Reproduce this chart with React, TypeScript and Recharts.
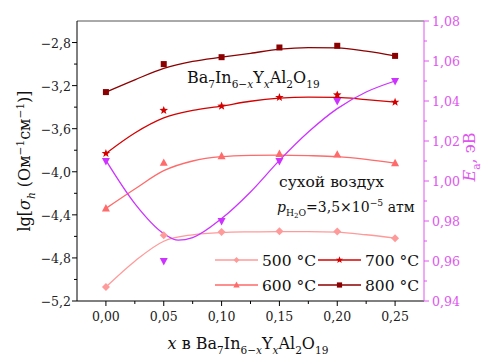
import React from 'react';
import { ComposedChart, Line, XAxis, YAxis, ReferenceLine } from 'recharts';

// ---- data ----
const xValues = [0, 0.05, 0.1, 0.15, 0.2, 0.25];
const sigma500 = [-5.07, -4.59, -4.56, -4.552, -4.555, -4.617];
const sigma600 = [-4.34, -3.917, -3.856, -3.834, -3.84, -3.92];
const sigma700 = [-3.83, -3.43, -3.39, -3.31, -3.286, -3.354];
const sigma800 = [-3.26, -3.0, -2.936, -2.846, -2.83, -2.924];
const activationEnergy = [1.01, 0.96, 0.98, 1.01, 1.04, 1.05];

// fitted curves
const fitX = [0, 0.025, 0.05, 0.075, 0.1, 0.125, 0.15, 0.175, 0.2, 0.225, 0.25];
const fit500 = [-5.07, -4.83, -4.645, -4.585, -4.564, -4.558, -4.555, -4.555, -4.56, -4.585, -4.617];
const fit600 = [-4.34, -4.16, -3.99, -3.9, -3.86, -3.848, -3.845, -3.85, -3.86, -3.885, -3.92];
const fit700 = [-3.83, -3.64, -3.5, -3.43, -3.39, -3.345, -3.317, -3.307, -3.31, -3.33, -3.354];
const fit800 = [-3.26, -3.146, -3.04, -2.975, -2.936, -2.9, -2.862, -2.847, -2.85, -2.88, -2.924];
const fitEaX = [0, 0.025, 0.05, 0.0625, 0.075, 0.1, 0.125, 0.15, 0.175, 0.2, 0.225, 0.25];
const fitEa = [1.0103, 0.9887, 0.9737, 0.9704, 0.9717, 0.9812, 0.9945, 1.0103, 1.0245, 1.0362, 1.0445, 1.05];

// ticks
const xMajor = [0, 0.05, 0.1, 0.15, 0.2, 0.25];
const xMinor = [0.025, 0.075, 0.125, 0.175, 0.225];
const leftMajor = [-5.2, -4.8, -4.4, -4.0, -3.6, -3.2, -2.8];
const leftMinor = [-5.0, -4.6, -4.2, -3.8, -3.4, -3.0];
const rightMajor = [0.94, 0.96, 0.98, 1.0, 1.02, 1.04, 1.06, 1.08];
const rightMinor = [0.95, 0.97, 0.99, 1.01, 1.03, 1.05, 1.07];
const legendLabels = ['500 °C', '600 °C', '700 °C', '800 °C'];

const FONT = "'DejaVu Serif', 'Liberation Serif', serif";
const C500 = '#ff9a9a';
const C600 = '#ff6a6a';
const C700 = '#d40000';
const C800 = '#8b0000';
const CEA = '#cc33ff';
const CAX = '#e055f0';

const toPts = (xs: number[], ys: number[]) => xs.map((x, i) => ({ x, y: ys[i] }));
const isIn = (v: number, arr: number[]) => arr.some((m) => Math.abs(m - v) < 1e-6);
const fmt = (v: number, d: number) => v.toFixed(d).replace('.', ',').replace('-', '−');
const tStyle = { fontFamily: FONT };

// ---- markers ----
const Diamond = ({ cx, cy, r = 4, fill = C500 }: any) => (
  <polygon points={`${cx},${cy - r} ${cx + r},${cy} ${cx},${cy + r} ${cx - r},${cy}`} fill={fill} />
);
const TriUp = ({ cx, cy, r = 4, fill = C600 }: any) => (
  <polygon points={`${cx},${cy - r * 1.1} ${cx + r},${cy + r * 0.75} ${cx - r},${cy + r * 0.75}`} fill={fill} />
);
const TriDown = ({ cx, cy, r = 4, fill = CEA }: any) => (
  <polygon points={`${cx - r},${cy - r * 0.75} ${cx + r},${cy - r * 0.75} ${cx},${cy + r * 1.1}`} fill={fill} />
);
const Square = ({ cx, cy, r = 3, fill = C800 }: any) => (
  <rect x={cx - r} y={cy - r} width={2 * r} height={2 * r} fill={fill} />
);
const Star = ({ cx, cy, r = 4.5, fill = C700 }: any) => {
  const pts: string[] = [];
  for (let i = 0; i < 10; i++) {
    const rad = i % 2 === 0 ? r : r * 0.42;
    const a = -Math.PI / 2 + (i * Math.PI) / 5;
    pts.push(`${cx + rad * Math.cos(a)},${cy + rad * Math.sin(a)}`);
  }
  return <polygon points={pts.join(' ')} fill={fill} />;
};

// ---- ticks ----
const BottomTick = (p: any) => {
  const major = isIn(p.payload.value, xMajor);
  return (
    <g>
      <line x1={p.x} x2={p.x} y1={p.y} y2={p.y + (major ? 5 : 3)} stroke="#000" />
      {major && (
        <text x={p.x} y={p.y + 20} textAnchor="middle" fontSize={12.5} style={tStyle} fill="#222">
          {fmt(p.payload.value, 2)}
        </text>
      )}
    </g>
  );
};
const LeftTick = (p: any) => {
  const major = isIn(p.payload.value, leftMajor);
  return (
    <g>
      <line x1={p.x - (major ? 5 : 3)} x2={p.x} y1={p.y} y2={p.y} stroke="#000" />
      {major && (
        <text x={p.x - 6} y={p.y + 5} textAnchor="end" fontSize={12.5} style={tStyle} fill="#222">
          {fmt(p.payload.value, 1)}
        </text>
      )}
    </g>
  );
};
const RightTick = (p: any) => {
  const major = isIn(p.payload.value, rightMajor);
  return (
    <g>
      <line x1={p.x} x2={p.x + (major ? 5 : 3)} y1={p.y} y2={p.y} stroke={CAX} />
      {major && (
        <text x={p.x + 8} y={p.y + 5} textAnchor="start" fontSize={12.5} style={tStyle} fill={CAX}>
          {fmt(p.payload.value, 2)}
        </text>
      )}
    </g>
  );
};

// ---- rich text helper ----
type Seg = { t: string; s?: 'sub' | 'sup' | 'ss'; i?: boolean };
const Rich = ({ segs, size, ...rest }: any) => {
  let cur = 0;
  return (
    <text fontSize={size} style={tStyle} {...rest}>
      {(segs as Seg[]).map((sg, k) => {
        const target = sg.s === 'sub' ? size * 0.3 : sg.s === 'ss' ? size * 0.45 : sg.s === 'sup' ? -size * 0.4 : 0;
        const dy = target - cur;
        cur = target;
        const fs = sg.s === 'ss' ? size * 0.5 : sg.s ? size * 0.66 : size;
        return (
          <tspan key={k} dy={dy} fontSize={fs} fontStyle={sg.i ? 'italic' : 'normal'}>
            {sg.t}
          </tspan>
        );
      })}
    </text>
  );
};

const formulaSegs: Seg[] = [
  { t: 'Ba' }, { t: '7', s: 'sub' }, { t: 'In' }, { t: '6−', s: 'sub' }, { t: 'x', s: 'sub', i: true },
  { t: 'Y' }, { t: 'x', s: 'sub', i: true }, { t: 'Al' }, { t: '2', s: 'sub' }, { t: 'O' }, { t: '19', s: 'sub' },
];

const Overlay = () => (
  <svg width={482} height={356} style={{ position: 'absolute', left: 0, top: 0, pointerEvents: 'none' }}>
    <Rich segs={formulaSegs} size={16} x={187} y={83} fill="#111" />
    <text x={279} y={187} fontSize={15.5} style={tStyle} fill="#111">сухой воздух</text>
    <Rich
      segs={[
        { t: 'p', i: true }, { t: 'H', s: 'sub' }, { t: '2', s: 'ss' }, { t: 'O', s: 'sub' },
        { t: '=3,5×10' }, { t: '−5', s: 'sup' }, { t: ' атм' },
      ]}
      size={14}
      x={277}
      y={212}
      fill="#111"
    />
    {/* legend */}
    <g>
      <line x1={215} x2={258} y1={260} y2={260} stroke={C500} strokeWidth={1.3} />
      <Diamond cx={236.5} cy={260} r={3} />
      <text x={262} y={266} fontSize={15.5} style={tStyle} fill="#111">{legendLabels[0]}</text>
      <line x1={215} x2={258} y1={285} y2={285} stroke={C600} strokeWidth={1.3} />
      <TriUp cx={236.5} cy={285} r={3.2} />
      <text x={262} y={291} fontSize={15.5} style={tStyle} fill="#111">{legendLabels[1]}</text>
      <line x1={318} x2={361} y1={260} y2={260} stroke={C700} strokeWidth={1.3} />
      <Star cx={339.5} cy={260} r={3.8} />
      <text x={365} y={266} fontSize={15.5} style={tStyle} fill="#111">{legendLabels[2]}</text>
      <line x1={318} x2={361} y1={285} y2={285} stroke={C800} strokeWidth={1.3} />
      <Square cx={339.5} cy={285} r={2.6} />
      <text x={365} y={291} fontSize={15.5} style={tStyle} fill="#111">{legendLabels[3]}</text>
    </g>
    {/* axis titles */}
    <Rich
      segs={[
        { t: 'lg[' }, { t: 'σ', i: true }, { t: 'h', s: 'sub', i: true }, { t: ' (Ом' }, { t: '−1', s: 'sup' },
        { t: 'см' }, { t: '−1', s: 'sup' }, { t: ')]' },
      ]}
      size={16}
      x={0}
      y={0}
      textAnchor="middle"
      transform="translate(30,161) rotate(-90)"
      fill="#111"
    />
    <Rich
      segs={[{ t: 'E', i: true }, { t: 'а', s: 'sub' }, { t: ', эВ' }]}
      size={16}
      x={0}
      y={0}
      textAnchor="middle"
      transform="translate(475,157) rotate(-90)"
      fill={CAX}
    />
    <Rich
      segs={[{ t: 'x', i: true }, { t: ' в ' }, ...formulaSegs]}
      size={16}
      x={248}
      y={349}
      textAnchor="middle"
      fill="#111"
    />
  </svg>
);

const mkDot = (Shape: any) => (p: any) =>
  p.cx == null ? <g key={p.index} /> : <Shape key={p.index} cx={p.cx} cy={p.cy} />;

export default function App() {
  return (
    <div style={{ position: 'absolute', left: 0, top: 0, width: 482, height: 356, background: '#fff', fontFamily: FONT }}>
      <ComposedChart width={482} height={356} margin={{ top: 21, right: 8, bottom: 25, left: 27 }}>
        <XAxis
          type="number"
          dataKey="x"
          domain={[-0.025, 0.275]}
          ticks={[...xMajor, ...xMinor]}
          interval={0}
          tickSize={0}
          tickMargin={0}
          tickLine={false}
          tick={(p: any) => <BottomTick {...p} />}
          axisLine={{ stroke: '#000' }}
          height={30}
          allowDataOverflow
        />
        <YAxis
          yAxisId="left"
          type="number"
          domain={[-5.2, -2.6]}
          ticks={[...leftMajor, ...leftMinor]}
          interval={0}
          tickSize={0}
          tickMargin={0}
          tickLine={false}
          tick={(p: any) => <LeftTick {...p} />}
          axisLine={{ stroke: '#000' }}
          width={50}
          allowDataOverflow
        />
        <YAxis
          yAxisId="right"
          orientation="right"
          type="number"
          domain={[0.94, 1.08]}
          ticks={[...rightMajor, ...rightMinor]}
          interval={0}
          tickSize={0}
          tickMargin={0}
          tickLine={false}
          tick={(p: any) => <RightTick {...p} />}
          axisLine={{ stroke: CAX }}
          width={50}
          allowDataOverflow
        />
        <ReferenceLine yAxisId="left" y={-2.6} stroke="#555" strokeWidth={1} />

        <Line yAxisId="left" data={toPts(fitX, fit500)} dataKey="y" type="monotone" stroke={C500} strokeWidth={1.3} dot={false} activeDot={false} isAnimationActive={false} />
        <Line yAxisId="left" data={toPts(fitX, fit600)} dataKey="y" type="monotone" stroke={C600} strokeWidth={1.3} dot={false} activeDot={false} isAnimationActive={false} />
        <Line yAxisId="left" data={toPts(fitX, fit700)} dataKey="y" type="monotone" stroke={C700} strokeWidth={1.3} dot={false} activeDot={false} isAnimationActive={false} />
        <Line yAxisId="left" data={toPts(fitX, fit800)} dataKey="y" type="monotone" stroke={C800} strokeWidth={1.3} dot={false} activeDot={false} isAnimationActive={false} />
        <Line yAxisId="right" data={toPts(fitEaX, fitEa)} dataKey="y" type="monotone" stroke={CEA} strokeWidth={1.3} dot={false} activeDot={false} isAnimationActive={false} />

        <Line yAxisId="left" data={toPts(xValues, sigma500)} dataKey="y" stroke="none" dot={mkDot(Diamond)} activeDot={false} isAnimationActive={false} />
        <Line yAxisId="left" data={toPts(xValues, sigma600)} dataKey="y" stroke="none" dot={mkDot(TriUp)} activeDot={false} isAnimationActive={false} />
        <Line yAxisId="left" data={toPts(xValues, sigma700)} dataKey="y" stroke="none" dot={mkDot(Star)} activeDot={false} isAnimationActive={false} />
        <Line yAxisId="left" data={toPts(xValues, sigma800)} dataKey="y" stroke="none" dot={mkDot(Square)} activeDot={false} isAnimationActive={false} />
        <Line yAxisId="right" data={toPts(xValues, activationEnergy)} dataKey="y" stroke="none" dot={mkDot(TriDown)} activeDot={false} isAnimationActive={false} />
      </ComposedChart>
      <Overlay />
    </div>
  );
}
